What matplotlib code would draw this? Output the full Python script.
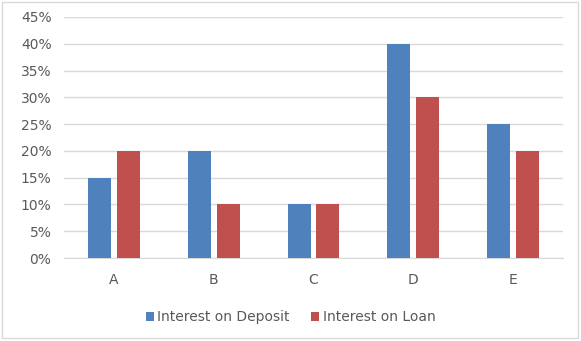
import numpy as np
import matplotlib.pyplot as plt
from matplotlib.patches import Rectangle

categories = ['A', 'B', 'C', 'D', 'E']
deposit = [15, 20, 10, 40, 25]
loan = [20, 10, 10, 30, 20]
yticks = [0, 5, 10, 15, 20, 25, 30, 35, 40, 45]

W, H = 581, 341
fig = plt.figure(figsize=(W / 100, H / 100), dpi=100)

# chart border
fig.patches.append(Rectangle((2 / W, 3 / H), 576 / W, 336 / H, transform=fig.transFigure,
                             fill=False, edgecolor='#d9d9d9', linewidth=1))

ax = fig.add_axes([64 / W, 1 - 258 / H, (563 - 64) / W, (258 - 17) / H])

x = np.arange(len(categories))
w = 0.23
ax.bar(x - 0.145, deposit, w, color='#4f81bd', label='Interest on Deposit', zorder=3)
ax.bar(x + 0.145, loan, w, color='#c0504d', label='Interest on Loan', zorder=3)

ax.set_xlim(-0.5, len(categories) - 0.5)
ax.set_ylim(0, 45)
ax.set_yticks(yticks)
ax.set_yticklabels([f'{v}%' for v in yticks])
ax.set_xticks(x)
ax.set_xticklabels(categories)
ax.yaxis.grid(True, color='#d9d9d9', linewidth=1, zorder=0)
for s in ['top', 'right', 'left']:
    ax.spines[s].set_visible(False)
ax.spines['bottom'].set_color('#d9d9d9')
ax.tick_params(axis='both', length=0, labelsize=10, labelcolor='#595959')
ax.tick_params(axis='y', pad=9)
ax.tick_params(axis='x', pad=11)

fig.legend(loc='center', bbox_to_anchor=(0.5, 1 - 317 / H), ncol=2, frameon=False,
           fontsize=10, labelcolor='#595959', handlelength=0.6, handleheight=0.6,
           handletextpad=0.25, columnspacing=1.5)

fig.savefig('out.png', dpi=100)
